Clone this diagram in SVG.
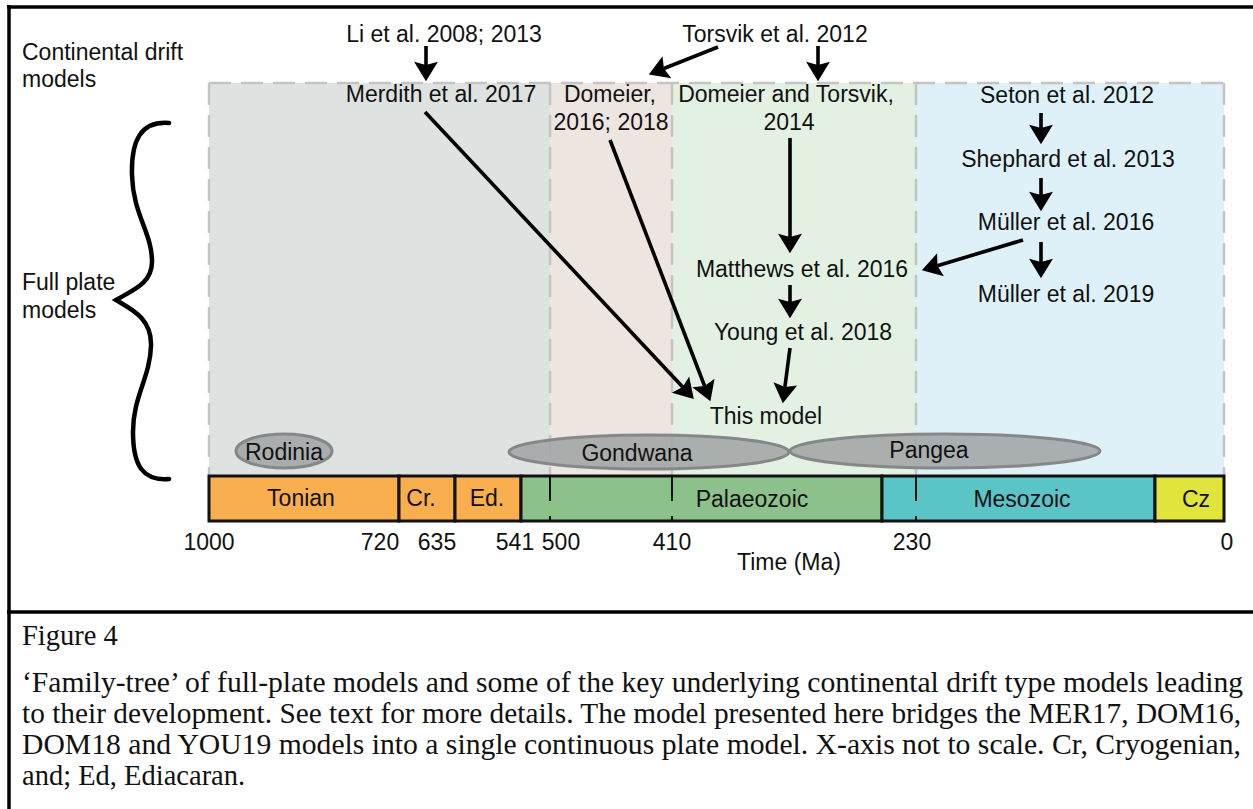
<svg xmlns="http://www.w3.org/2000/svg" width="1253" height="809" viewBox="0 0 1253 809">
<style>
text{font-family:"Liberation Sans",Arial,sans-serif;font-size:23px;fill:#111}
.c{text-anchor:middle}
.cap{font-family:"Liberation Serif","Times New Roman",serif;font-size:28.5px;fill:#111}
.pdash{stroke:#c4c4c4;stroke-width:2.5;stroke-dasharray:22 10;fill:none}
.bar{stroke:#111;stroke-width:3}
.bdash{stroke:#111;stroke-width:2;stroke-dasharray:25 15}
.ell{fill:#a2a5a6;fill-opacity:0.88;stroke:#858788;stroke-width:3}
.arr{stroke:#000;stroke-width:3.6;fill:none;marker-end:url(#ah)}
</style>
<defs>
<marker id="ah" markerUnits="userSpaceOnUse" markerWidth="24" markerHeight="26" viewBox="-1 -12 21 24" refX="3" refY="0" orient="auto">
<path d="M0,-11 L18,0 L0,11 L3,0 Z" fill="#000"/>
</marker>
</defs>
<rect width="1253" height="809" fill="#fff"/>
<g id="frame" stroke="#000" stroke-width="3.5" fill="none">
<line x1="9" y1="5" x2="9" y2="809"/>
<line x1="7" y1="7" x2="1253" y2="7"/>
<line x1="7" y1="612" x2="1253" y2="612"/>
</g>
<g id="panels">
<rect x="209" y="83" width="341" height="392" fill="#dee3e1"/>
<rect x="550" y="83" width="122" height="392" fill="#ede5df"/>
<rect x="672" y="83" width="244" height="392" fill="#e3f1e3"/>
<rect x="916" y="83" width="308" height="392" fill="#dff1f8"/>
<line class="pdash" x1="209" y1="83" x2="1224" y2="83"/>
<line class="pdash" x1="209" y1="83" x2="209" y2="475"/>
<line class="pdash" x1="550" y1="83" x2="550" y2="475"/>
<line class="pdash" x1="672" y1="83" x2="672" y2="475"/>
<line class="pdash" x1="916" y1="83" x2="916" y2="475"/>
<line class="pdash" x1="1224" y1="83" x2="1224" y2="475"/>
</g>
<g id="side-labels">
<text x="22" y="60">Continental drift</text>
<text x="22" y="87">models</text>
<text x="22" y="290">Full plate</text>
<text x="22" y="318">models</text>
<path id="brace" d="M169,123 C141,121 131,140 132,175 C133,215 152,232 152,262 C152,284 131,291 116,300 C131,309 152,318 151,346 C150,378 133,396 133,432 C133,466 143,481 169,479" fill="none" stroke="#000" stroke-width="4.5" stroke-linecap="round"/>
</g>
<g id="timeline">
<rect class="bar" x="209" y="476" width="190" height="45" fill="#f9af4e"/>
<rect class="bar" x="399" y="476" width="56" height="45" fill="#f9af4e"/>
<rect class="bar" x="455" y="476" width="66" height="45" fill="#f9af4e"/>
<rect class="bar" x="521" y="476" width="361" height="45" fill="#8cc18c"/>
<rect class="bar" x="882" y="476" width="273" height="45" fill="#5ac5c7"/>
<rect class="bar" x="1155" y="476" width="69" height="45" fill="#e1e43b"/>
<line class="bdash" x1="550" y1="476" x2="550" y2="521"/>
<line class="bdash" x1="672" y1="476" x2="672" y2="521"/>
<line class="bdash" x1="916" y1="476" x2="916" y2="521"/>
<text class="c" x="301" y="506">Tonian</text>
<text class="c" x="421" y="506">Cr.</text>
<text class="c" x="487" y="506">Ed.</text>
<text class="c" x="752" y="507">Palaeozoic</text>
<text class="c" x="1022" y="507">Mesozoic</text>
<text class="c" x="1196" y="507">Cz</text>
</g>
<g id="axis">
<text class="c" x="209" y="550">1000</text>
<text class="c" x="380" y="550">720</text>
<text class="c" x="437" y="550">635</text>
<text class="c" x="515" y="550">541</text>
<text class="c" x="561" y="550">500</text>
<text class="c" x="672" y="550">410</text>
<text class="c" x="912" y="550">230</text>
<text class="c" x="1227" y="550">0</text>
<text class="c" x="789" y="570">Time (Ma)</text>
</g>
<g id="supercontinents">
<g id="rodinia"><ellipse class="ell" cx="284" cy="451" rx="48" ry="17"/><text class="c" x="284" y="460">Rodinia</text></g>
<g id="gondwana"><ellipse class="ell" cx="649" cy="452" rx="140" ry="17"/><text class="c" x="637" y="461">Gondwana</text></g>
<g id="pangea"><ellipse class="ell" cx="945" cy="451" rx="155" ry="17"/><text class="c" x="929" y="458">Pangea</text></g>
</g>
<g id="nodes">
<g id="li"><text class="c" x="444" y="42">Li et al. 2008; 2013</text></g>
<g id="torsvik"><text class="c" x="775" y="42">Torsvik et al. 2012</text></g>
<g id="merdith"><text class="c" x="441" y="102">Merdith et al. 2017</text></g>
<g id="domeier"><text class="c" x="610" y="102">Domeier,</text><text class="c" x="611" y="130">2016; 2018</text></g>
<g id="domeier-torsvik"><text class="c" x="786" y="102">Domeier and Torsvik,</text><text class="c" x="789" y="130">2014</text></g>
<g id="seton"><text class="c" x="1067" y="103">Seton et al. 2012</text></g>
<g id="shephard"><text class="c" x="1068" y="167">Shephard et al. 2013</text></g>
<g id="muller2016"><text class="c" x="1066" y="230">Müller et al. 2016</text></g>
<g id="muller2019"><text class="c" x="1066" y="302">Müller et al. 2019</text></g>
<g id="matthews"><text class="c" x="802" y="277">Matthews et al. 2016</text></g>
<g id="young"><text class="c" x="803" y="340">Young et al. 2018</text></g>
<g id="thismodel"><text class="c" x="766" y="424">This model</text></g>
</g>
<g id="connectors">
<line class="arr" x1="426" y1="46" x2="426" y2="65"/>
<line class="arr" x1="818" y1="46" x2="818" y2="65"/>
<line class="arr" x1="718" y1="47" x2="663.9" y2="68.5"/>
<line class="arr" x1="425" y1="112" x2="682.7" y2="387.1"/>
<line class="arr" x1="610" y1="140" x2="704.6" y2="386"/>
<line class="arr" x1="790" y1="138" x2="790" y2="237"/>
<line class="arr" x1="790" y1="285" x2="790" y2="302"/>
<line class="arr" x1="790" y1="348" x2="784.9" y2="387.1"/>
<line class="arr" x1="1041" y1="113" x2="1041" y2="128"/>
<line class="arr" x1="1041" y1="178" x2="1041" y2="195"/>
<line class="arr" x1="1041" y1="242" x2="1041" y2="262"/>
<line class="arr" x1="1023" y1="240" x2="937.4" y2="265.7"/>
</g>
<g id="caption">
<text class="cap" x="22" y="645">Figure 4</text>
<text class="cap" x="22" y="692" textLength="1221" lengthAdjust="spacingAndGlyphs">‘Family-tree’ of full-plate models and some of the key underlying continental drift type models leading</text>
<text class="cap" x="22" y="723" textLength="1219" lengthAdjust="spacingAndGlyphs">to their development. See text for more details. The model presented here bridges the MER17, DOM16,</text>
<text class="cap" x="22" y="754" textLength="1219" lengthAdjust="spacingAndGlyphs">DOM18 and YOU19 models into a single continuous plate model. X-axis not to scale. Cr, Cryogenian,</text>
<text class="cap" x="22" y="785">and; Ed, Ediacaran.</text>
</g>
</svg>
